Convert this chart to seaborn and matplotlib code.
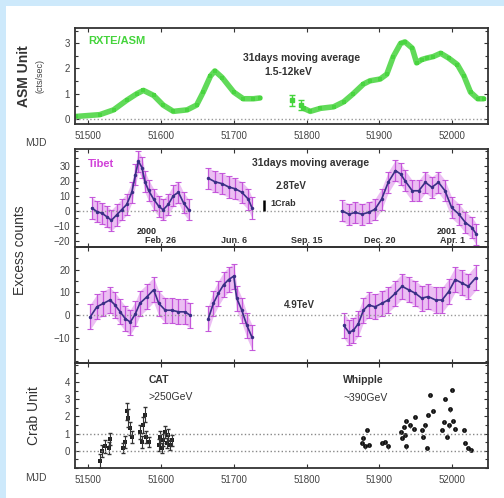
import numpy as np
import matplotlib
matplotlib.use("Agg")
import matplotlib.pyplot as plt
import seaborn as sns
from matplotlib.patches import Rectangle
from matplotlib.ticker import MultipleLocator

# ---- data ----
# RXTE/ASM 31-day moving average (ASM units)
asm_mjd_a = [51484, 51516, 51535, 51553, 51567, 51576, 51590, 51603, 51617, 51636,
             51649, 51658, 51668, 51674, 51684, 51700, 51713, 51727, 51736]
asm_val_a = [0.10, 0.17, 0.36, 0.74, 1.00, 1.13, 0.93, 0.55, 0.30, 0.36,
             0.55, 1.06, 1.70, 1.90, 1.64, 1.06, 0.80, 0.80, 0.83]
asm_mjd_gap = [51780, 51792]
asm_val_gap = [0.74, 0.55]
asm_err_gap = [0.22, 0.2]
asm_mjd_b = [51796, 51805, 51819, 51837, 51851, 51864, 51878, 51887, 51901, 51910,
             51919, 51929, 51935, 51945, 51951, 51958, 51965, 51974, 51984, 51995,
             52007, 52016, 52025, 52035, 52043]
asm_val_b = [0.42, 0.30, 0.42, 0.48, 0.68, 1.00, 1.38, 1.51, 1.58, 1.77,
             2.47, 2.99, 3.05, 2.80, 2.22, 2.35, 2.41, 2.47, 2.60, 2.41,
             2.15, 1.70, 1.06, 0.80, 0.80]

# Tibet 2.8 TeV excess counts
t28_mjd = [51505, 51512, 51519, 51526, 51532, 51539, 51546, 51553, 51560, 51565,
           51569, 51574, 51578, 51583, 51590, 51597, 51603, 51610, 51617, 51624,
           51631, 51638, None,
           51665, 51674, 51684, 51693, 51702, 51711, 51720, 51725, None,
           51848, 51858, 51867, 51876, 51885, 51894, 51903, 51912, 51922, 51929,
           51935, 51945, 51954, 51963, 51972, 51981, 51990, 51999, 52009, 52018,
           52027, 52033]
t28_val = [1.9, -0.5, -1.6, -4.0, -6.3, -2.8, 0.7, 4.2, 12.3, 24.0,
           33.0, 28.6, 19.3, 13.5, 7.7, 3.0, 0.7, 4.2, 10.0, 12.3,
           5.3, 0.7, None,
           21.6, 19.3, 18.0, 15.8, 14.6, 12.3, 7.7, 1.9, None,
           0.0, -2.2, -1.1, -2.2, -1.1, 1.1, 7.8, 18.9, 26.7, 24.4,
           20.0, 13.3, 13.3, 18.9, 15.6, 18.9, 13.3, 2.2, -2.2, -7.8,
           -11.1, -15.6]
t28_err = 7.0

# Tibet 4.9 TeV excess counts
t49_mjd = [51503, 51512, 51521, 51530, 51537, 51544, 51551, 51558, 51565, 51571,
           51581, 51590, 51597, 51606, 51615, 51624, 51633, 51640, None,
           51665, 51672, 51679, 51686, 51693, 51700, 51704, 51711, 51718, 51725, None,
           51851, 51858, 51864, 51871, 51878, 51885, 51894, 51903, 51912, 51922,
           51931, 51940, 51949, 51958, 51967, 51977, 51986, 51995, 52004, 52013,
           52022, 52032]
t49_val = [-0.7, 3.7, 5.2, 6.7, 4.5, 1.5, -1.5, -3.0, 0.7, 5.2,
           8.2, 11.2, 5.2, 2.2, 2.2, 1.5, 1.5, 0.0, None,
           -1.5, 5.2, 9.7, 13.4, 15.7, 17.2, 7.5, 2.2, -4.5, -9.7, None,
           -4.5, -7.5, -6.7, -3.7, 2.2, 4.5, 3.7, 5.2, 6.7, 9.7,
           12.7, 11.2, 9.7, 7.5, 8.2, 6.7, 6.7, 10.4, 15.7, 14.2,
           12.7, 16.4]
t49_err = 5.5

# CAT (>250 GeV) and Whipple (~390 GeV) in Crab units
cat_mjd = [51516, 51519, 51523, 51528, 51530, 51548, 51551, 51553, 51555, 51558,
           51560, 51571, 51574, 51576, 51578, 51580, 51583, 51597, 51599, 51601,
           51603, 51606, 51608, 51610, 51613, 51615]
cat_val = [-0.6, 0.0, 0.25, 0.15, 0.7, 0.15, 0.5, 2.3, 1.9, 1.3,
           0.8, 1.1, 0.5, 1.5, 2.1, 0.8, 0.5, 0.35, 0.8, 0.15,
           0.6, 1.1, 0.45, 0.9, 0.35, 0.6]
cat_err = [0.4, 0.35, 0.35, 0.35, 0.35, 0.3, 0.35, 0.5, 0.5, 0.4,
           0.35, 0.4, 0.35, 0.45, 0.45, 0.35, 0.3, 0.35, 0.35, 0.3,
           0.35, 0.35, 0.3, 0.35, 0.3, 0.3]
whp_mjd = [51876, 51878, 51880, 51883, 51885, 51903, 51908, 51912, 51929, 51931,
           51933, 51935, 51937, 51936, 51942, 51947, 51949, 51958, 51960, 51963,
           51965, 51967, 51970, 51974, 51986, 51988, 51990, 51993, 51995, 51997,
           51999, 52001, 52004, 52016, 52018, 52022, 52025]
whp_val = [0.47, 0.72, 0.25, 1.2, 0.34, 0.43, 0.53, 0.25, 1.1, 0.72,
           1.4, 0.9, 1.75, 0.25, 1.47, 1.28, 1.94, 1.19, 0.81, 1.47,
           0.15, 2.1, 3.26, 2.3, 1.19, 1.66, 3.0, 0.81, 1.47, 2.4,
           3.55, 1.75, 1.28, 1.19, 0.43, 0.15, 0.06]

date_ticks = [51600, 51700, 51800, 51900, 52000]
date_labels = ["Feb. 26", "Jun. 6", "Sep. 15", "Dec. 20", "Apr. 1"]
xticks = [51500, 51600, 51700, 51800, 51900, 52000]

sns.set_style("ticks")
plt.rcParams["font.family"] = ["Liberation Sans", "DejaVu Sans"]
plt.rcParams["xtick.direction"] = "in"
plt.rcParams["ytick.direction"] = "in"

fig = plt.figure(figsize=(5.04, 4.98), dpi=100)
fig.patch.set_facecolor("#cde9fb")
fig.add_artist(Rectangle((6 / 504, 0), 1, 1 - 6 / 498, transform=fig.transFigure,
                         facecolor="white", edgecolor="none", zorder=-10))

W, H = 504.0, 498.0
def box(top, bottom, left=75, right=488):
    return [left / W, 1 - bottom / H, (right - left) / W, (bottom - top) / H]

ax1 = fig.add_axes(box(28, 124))
ax2 = fig.add_axes(box(149, 247))
ax3 = fig.add_axes(box(247, 363))
ax4 = fig.add_axes(box(363, 468))

XLIM = (51482, 52049)
for ax in (ax1, ax2, ax3, ax4):
    ax.set_facecolor("none")
    ax.set_xlim(*XLIM)
    ax.set_xticks(xticks)
    ax.tick_params(axis="both", which="both", top=True, right=True, labelsize=7,
                   length=3, width=0.8, colors="#333333", labelcolor="#444444")
    ax.tick_params(which="minor", length=2)
    for sp in ax.spines.values():
        sp.set_linewidth(1.3)
        sp.set_color("#333333")

# ---- panel 1: ASM ----
green = "#45d43c"
sns.lineplot(x=asm_mjd_a, y=asm_val_a, ax=ax1, color=green, lw=4, marker="s",
             markersize=3, markeredgewidth=0, alpha=0.85)
sns.lineplot(x=asm_mjd_b, y=asm_val_b, ax=ax1, color=green, lw=4, marker="s",
             markersize=3, markeredgewidth=0, alpha=0.85)
ax1.errorbar(asm_mjd_gap, asm_val_gap, yerr=asm_err_gap, fmt="s", ms=3,
             color=green, capsize=2, lw=1)
ax1.axhline(0, color="#999999", ls=":", lw=1)
ax1.set_ylim(-0.2, 3.6)
ax1.set_yticks([0, 1, 2, 3])
ax1.yaxis.set_minor_locator(MultipleLocator(0.5))
ax1.text(51500, 3.1, "RXTE/ASM", color=green, fontsize=8, fontweight="bold", va="center")
ax1.text(51793, 2.42, "31days moving average", fontsize=7.5, fontweight="bold",
         ha="center", va="center", color="#333333")
ax1.text(51775, 1.87, "1.5-12keV", fontsize=7.5, fontweight="bold",
         ha="center", va="center", color="#333333")
ax1.tick_params(axis="x", labelbottom=True, pad=5)

# ---- panels 2 & 3: Tibet ----
mag = "#d66fe6"
navy = "#3a2f86"
def tibet(ax, mjd, val, err):
    xs = [m for m in mjd if m is not None]
    ys = [v for v in val if v is not None]
    seg_x, seg_y = [], []
    for m, v in zip(mjd + [None], val + [None]):
        if m is None:
            if seg_x:
                sx, sy = np.array(seg_x), np.array(seg_y)
                ax.fill_between(sx, sy - err, sy + err, color=mag, alpha=0.45, lw=0)
                sns.lineplot(x=seg_x, y=seg_y, ax=ax, color=navy, lw=1.2,
                             marker="o", markersize=2.5, markeredgewidth=0, zorder=5)
            seg_x, seg_y = [], []
        else:
            seg_x.append(m)
            seg_y.append(v)
    ax.errorbar(xs, ys, yerr=err, fmt="none", ecolor="#c04ad8", elinewidth=0.9,
                capsize=2, capthick=0.8, alpha=0.9)
    ax.axhline(0, color="#999999", ls=":", lw=1)

tibet(ax2, t28_mjd, t28_val, t28_err)
ax2.set_ylim(-24, 41)
ax2.set_yticks([-20, -10, 0, 10, 20, 30])
ax2.yaxis.set_minor_locator(MultipleLocator(5))
ax2.tick_params(axis="x", labelbottom=False)
ax2.text(51500, 31, "Tibet", color="#d040d8", fontsize=8, fontweight="bold", va="center")
ax2.text(51806, 31.5, "31days moving average", fontsize=7.5, fontweight="bold",
         ha="center", va="center", color="#333333")
ax2.text(51758, 16.5, "2.8TeV", fontsize=7, fontweight="bold", va="center", color="#333333")
ax2.errorbar([51742], [3.5], yerr=[3.5], fmt="none", ecolor="black", elinewidth=1.8, capsize=0)
ax2.text(51750, 5, "1Crab", fontsize=6.5, fontweight="bold", va="center", color="#333333")
for d, lab in zip(date_ticks, date_labels):
    ax2.text(d, -20, lab, fontsize=6.5, fontweight="bold", ha="center", va="center",
             color="#333333")
ax2.text(51580, -13.5, "2000", fontsize=6.5, fontweight="bold", ha="center", va="center")
ax2.text(51993, -13.5, "2001", fontsize=6.5, fontweight="bold", ha="center", va="center")

tibet(ax3, t49_mjd, t49_val, t49_err)
ax3.set_ylim(-21, 30)
ax3.set_yticks([-10, 0, 10, 20])
ax3.yaxis.set_minor_locator(MultipleLocator(5))
ax3.tick_params(axis="x", labelbottom=False)
ax3.text(51790, 4.5, "4.9TeV", fontsize=7, fontweight="bold", ha="center",
         va="center", color="#333333")

# ---- panel 4: CAT + Whipple ----
ax4.errorbar(cat_mjd, cat_val, yerr=cat_err, fmt="none", ecolor="#333333",
             elinewidth=0.8, capsize=1.5)
sns.scatterplot(x=cat_mjd, y=cat_val, ax=ax4, color="#222222", s=6, marker="s",
                linewidth=0)
ax4.errorbar(whp_mjd, whp_val, yerr=0.12, fmt="none", ecolor="#333333", elinewidth=0.8)
sns.scatterplot(x=whp_mjd, y=whp_val, ax=ax4, color="#111111", s=12, linewidth=0)
ax4.axhline(0, color="#888888", ls=":", lw=1)
ax4.axhline(1, color="#888888", ls=":", lw=1)
ax4.set_ylim(-1, 5.1)
ax4.set_yticks([0, 1, 2, 3, 4])
ax4.yaxis.set_minor_locator(MultipleLocator(0.5))
ax4.tick_params(axis="x", pad=5)
ax4.text(51583, 4.1, "CAT", fontsize=7.5, fontweight="bold", va="center", color="#333333")
ax4.text(51583, 3.1, ">250GeV", fontsize=7.5, va="center", color="#333333")
ax4.text(51850, 4.1, "Whipple", fontsize=7.5, fontweight="bold", va="center", color="#333333")
ax4.text(51850, 3.05, "~390GeV", fontsize=7.5, va="center", color="#333333")

for ax in (ax1, ax2, ax3, ax4):
    ax.set_xlabel("")
    ax.set_ylabel("")

# ---- outer labels ----
fig.text(24 / W, 1 - 76 / H, "ASM Unit", rotation=90, fontsize=10, fontweight="bold",
         ha="center", va="center", color="#333333")
fig.text(40 / W, 1 - 76 / H, "(cts/sec)", rotation=90, fontsize=6.5,
         ha="center", va="center", color="#444444")
fig.text(20 / W, 1 - 250 / H, "Excess counts", rotation=90, fontsize=10,
         ha="center", va="center", color="#333333")
fig.text(34 / W, 1 - 416 / H, "Crab Unit", rotation=90, fontsize=10,
         ha="center", va="center", color="#333333")
fig.text(36 / W, 1 - 143 / H, "MJD", fontsize=7.5, ha="center", va="center", color="#444444")
fig.text(36 / W, 1 - 478 / H, "MJD", fontsize=7.5, ha="center", va="center", color="#444444")

fig.savefig("out.png", dpi=100, facecolor=fig.get_facecolor())
